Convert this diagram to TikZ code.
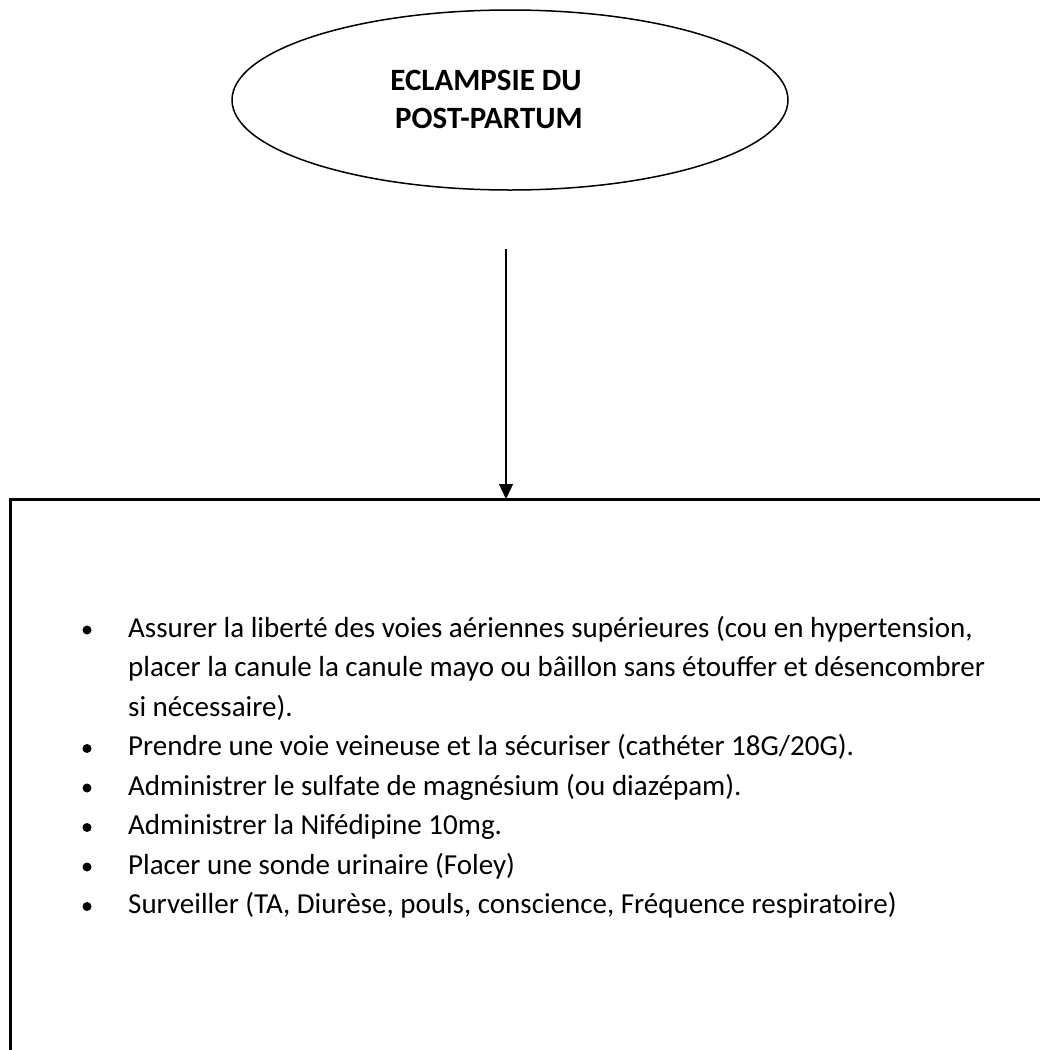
\documentclass[tikz,border=0pt]{standalone}
\usepackage{fontspec}
\setmainfont{Carlito}
\usetikzlibrary{shapes.geometric,arrows.meta}
\begin{document}
\begin{tikzpicture}[x=1pt,y=-1pt,
  bodytext/.style={anchor=base west, inner sep=0, font=\fontsize{29}{39.5}\selectfont},
  titletext/.style={anchor=base, inner sep=0, font=\fontsize{31}{38}\selectfont\bfseries},
  bul/.style={circle, fill=black, inner sep=0, minimum size=9},
  oval/.style={ellipse, draw, line width=1.5, minimum width=556, minimum height=180, inner sep=0},
  frame/.style={draw, line width=3, inner sep=0, outer sep=0, anchor=north west, minimum width=1120, minimum height=720},
  link/.style={line width=1.3, -{Triangle[length=15, width=14]}}
]
\useasboundingbox (0,0) rectangle (1040,1050);
\clip (0,0) rectangle (1040,1050);
\fill[white] (0,0) rectangle (1040,1050);

\node[oval] (e) at (510,100) {};
\node[titletext] (t1) at (486,90) {ECLAMPSIE DU};
\node[titletext] (t2) at (489,128) {POST-PARTUM};

\node[frame] (box) at (10,499) {};
\coordinate (astart) at (506,249);
\draw[link] (astart) -- (astart |- box.north);

\node[bodytext] (l1) at (128,637) {Assurer la liberté des voies aériennes supérieures (cou en hypertension,};
\node[bodytext] (l2) at (128,676.5) {placer la canule la canule mayo ou bâillon sans étouffer et désencombrer};
\node[bodytext] (l3) at (128,716) {si nécessaire).};
\node[bodytext] (l4) at (128,755.5) {Prendre une voie veineuse et la sécuriser (cathéter 18G/20G).};
\node[bodytext] (l5) at (128,795) {Administrer le sulfate de magnésium (ou diazépam).};
\node[bodytext] (l6) at (128,834.5) {Administrer la Nifédipine 10mg.};
\node[bodytext] (l7) at (128,874) {Placer une sonde urinaire (Foley)};
\node[bodytext] (l8) at (128,913.5) {Surveiller (TA, Diurèse, pouls, conscience, Fréquence respiratoire)};

\node[bul] (b1) at (87,630) {};
\node[bul] (b4) at (87,748.5) {};
\node[bul] (b5) at (87,788) {};
\node[bul] (b6) at (87,827.5) {};
\node[bul] (b7) at (87,867) {};
\node[bul] (b8) at (87,906.5) {};
\end{tikzpicture}
\end{document}
